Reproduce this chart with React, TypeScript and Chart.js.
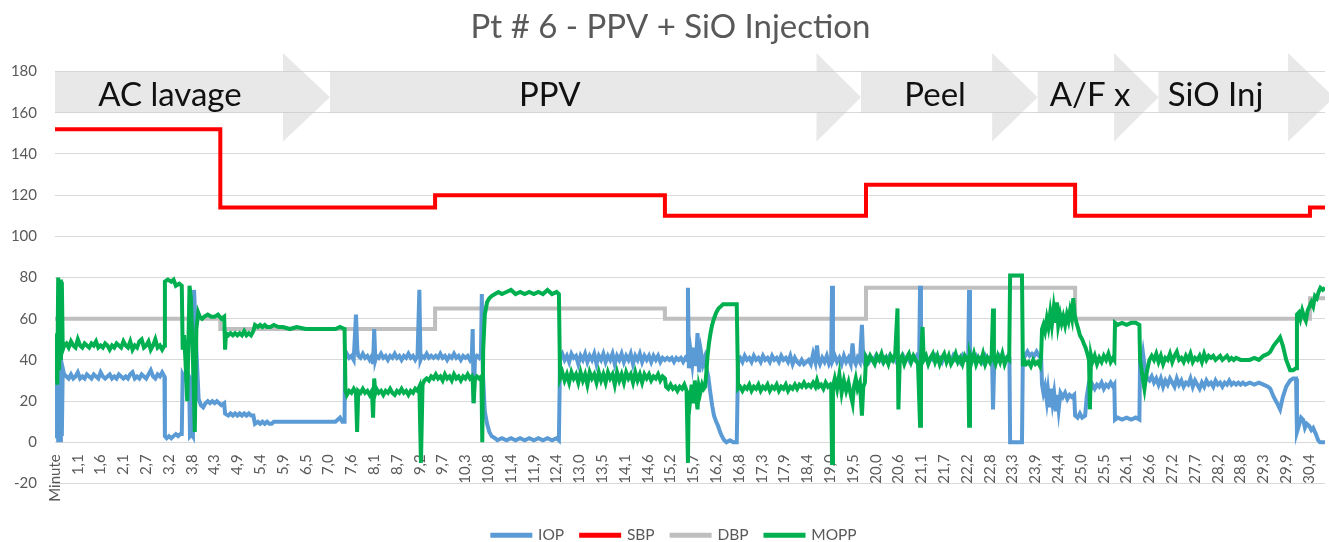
import React, { useEffect, useRef } from 'react';
import { Chart, registerables } from 'chart.js';

Chart.register(...registerables);

const FONT = 'Lato';

const chartTitle = 'Pt # 6 - PPV + SiO Injection';

const tickLabels = [
  'Minute', '1,1', '1,6', '2,1', '2,7', '3,2', '3,8', '4,3', '4,9', '5,4', '5,9', '6,5', '7,0', '7,6',
  '8,1', '8,7', '9,2', '9,7', '10,3', '10,8', '11,4', '11,9', '12,4', '13,0', '13,5', '14,1', '14,6',
  '15,2', '15,7', '16,2', '16,8', '17,3', '17,9', '18,4', '19,0', '19,5', '20,0', '20,6', '21,1', '21,7',
  '22,2', '22,8', '23,3', '23,9', '24,4', '25,0', '25,5', '26,1', '26,6', '27,2', '27,7', '28,2', '28,8',
  '29,3', '29,9', '30,4',
];

const seriesNames = ['IOP', 'SBP', 'DBP', 'MOPP'];
const seriesColors = ['#5B9BD5', '#FF0000', '#BFBFBF', '#00B050'];

// x is the position along the category axis (0 = "Minute", 1 = "1,1", ...)
const sbpData: [number, number][] = [
  [0, 152], [7.25, 152], [7.25, 114], [16.67, 114], [16.67, 120], [26.75, 120], [26.75, 110],
  [35.57, 110], [35.57, 125], [44.74, 125], [44.74, 110], [55.04, 110], [55.04, 114], [55.7, 114],
];

const dbpData: [number, number][] = [
  [0, 60], [7.25, 60], [7.25, 55], [16.67, 55], [16.67, 65], [26.75, 65], [26.75, 60],
  [35.57, 60], [35.57, 75], [44.74, 75], [44.74, 60], [55.04, 60], [55.04, 70], [55.7, 70],
];

const iopData: [number, number][] = [
  [0, 30], [0.03, 36], [0.06, 2], [0.1, 35], [0.14, 0], [0.18, 37], [0.22, 1], [0.26, 38], [0.3, 3], [0.34, 36], [0.4, 33],
  [0.5, 32], [0.6, 31], [0.7, 33], [0.8, 31], [0.9, 32], [1.0, 34], [1.1, 31], [1.2, 32], [1.3, 31], [1.4, 33],
  [1.5, 32], [1.6, 31], [1.7, 33], [1.8, 32], [1.9, 31], [2.0, 34], [2.1, 32], [2.2, 31], [2.3, 32], [2.4, 33],
  [2.5, 31], [2.6, 32], [2.7, 31], [2.8, 33], [2.9, 32], [3.0, 31], [3.1, 32], [3.2, 31], [3.3, 33], [3.4, 34],
  [3.5, 31], [3.6, 32], [3.7, 31], [3.8, 33], [3.9, 32], [4.0, 31], [4.1, 33], [4.2, 35], [4.3, 32], [4.4, 31],
  [4.5, 33], [4.6, 32], [4.7, 34], [4.8, 32],
  [4.82, 3], [4.9, 2], [5.0, 3], [5.1, 2], [5.2, 3], [5.3, 4], [5.4, 3], [5.5, 4], [5.56, 4], [5.6, 33], [5.7, 31],
  [5.8, 34], [5.88, 32], [5.92, 3], [6.0, 4], [6.05, 3], [6.1, 74], [6.15, 60], [6.2, 45], [6.3, 21], [6.4, 18],
  [6.5, 17], [6.6, 19], [6.7, 20], [6.8, 19], [6.9, 20], [7.0, 19], [7.1, 20], [7.2, 19], [7.3, 18], [7.42, 19],
  [7.46, 14], [7.6, 13], [7.7, 14], [7.8, 13], [7.9, 14], [8.0, 13], [8.1, 14], [8.2, 13], [8.3, 14], [8.4, 13],
  [8.5, 14], [8.6, 13], [8.7, 13], [8.77, 9], [8.9, 10], [9.0, 9], [9.1, 10], [9.2, 9], [9.3, 10], [9.4, 9],
  [9.5, 9], [9.6, 10], [9.8, 10], [10.2, 10], [10.6, 10], [11.0, 10], [11.5, 10], [12.0, 10], [12.3, 10],
  [12.5, 12], [12.6, 10], [12.7, 10],
  [12.72, 41], [12.8, 43], [12.9, 41], [13.0, 42], [13.1, 40], [13.2, 62], [13.26, 45], [13.3, 42], [13.4, 41],
  [13.5, 43], [13.6, 41], [13.7, 42], [13.8, 40], [13.9, 42], [13.95, 38], [14.0, 55], [14.05, 40], [14.1, 42],
  [14.2, 41], [14.3, 43], [14.4, 41], [14.5, 42], [14.6, 40], [14.7, 42], [14.8, 41], [14.9, 43], [15.0, 41],
  [15.1, 42], [15.2, 40], [15.3, 42], [15.4, 41], [15.5, 43], [15.6, 41], [15.7, 42], [15.8, 40], [15.9, 42],
  [15.98, 74], [16.03, 40], [16.1, 42], [16.2, 41], [16.3, 43], [16.4, 41], [16.5, 42], [16.6, 41],
  [16.7, 42], [16.8, 41], [16.9, 43], [17.0, 41], [17.1, 42], [17.2, 40], [17.3, 42], [17.4, 41], [17.5, 43],
  [17.6, 41], [17.7, 42], [17.8, 40], [17.9, 42], [18.0, 41], [18.1, 42], [18.2, 40], [18.28, 42], [18.32, 55],
  [18.36, 19], [18.42, 41], [18.5, 42], [18.6, 41], [18.68, 43], [18.72, 72], [18.76, 35], [18.85, 15],
  [18.95, 9], [19.05, 5], [19.15, 3], [19.3, 2], [19.4, 1], [19.6, 2], [19.8, 1], [20.0, 2], [20.2, 1],
  [20.4, 2], [20.6, 1], [20.8, 2], [21.0, 1], [21.2, 2], [21.4, 1], [21.6, 2], [21.8, 1], [22.0, 2], [22.1, 1],
  [22.15, 41], [22.25, 43], [22.35, 40], [22.45, 42], [22.55, 39], [22.65, 43], [22.75, 41], [22.85, 42],
  [22.95, 38], [23.05, 42], [23.15, 40], [23.25, 43], [23.35, 39], [23.45, 42], [23.55, 40], [23.65, 43],
  [23.75, 38], [23.85, 42], [23.95, 40], [24.05, 43], [24.15, 39], [24.25, 42], [24.35, 40], [24.45, 43],
  [24.55, 38], [24.65, 42], [24.75, 40], [24.85, 43], [24.95, 39], [25.05, 42], [25.15, 40], [25.25, 43],
  [25.35, 38], [25.45, 42], [25.55, 40], [25.65, 43], [25.75, 39], [25.85, 42], [25.95, 40], [26.05, 42],
  [26.15, 39], [26.25, 42], [26.35, 40], [26.45, 42], [26.55, 39], [26.65, 41], [26.75, 40],
  [26.85, 41], [26.95, 40], [27.05, 41], [27.15, 39], [27.25, 41], [27.35, 40], [27.45, 41], [27.55, 39],
  [27.65, 41], [27.72, 40], [27.76, 75], [27.8, 36], [27.88, 44], [27.95, 38], [28.02, 46], [28.1, 37],
  [28.18, 53], [28.25, 34], [28.33, 44], [28.42, 38], [28.5, 41], [28.57, 36], [28.65, 32], [28.73, 25],
  [28.82, 18], [28.9, 13], [29.0, 10], [29.08, 8], [29.17, 5], [29.25, 3], [29.35, 1], [29.45, 0], [29.6, 1],
  [29.75, 0], [29.9, 0],
  [29.96, 40], [30.05, 41], [30.15, 39], [30.25, 42], [30.35, 40], [30.45, 41], [30.55, 39], [30.65, 42],
  [30.75, 40], [30.85, 41], [30.95, 39], [31.05, 42], [31.15, 40], [31.25, 41], [31.35, 39], [31.45, 42],
  [31.55, 40], [31.65, 41], [31.75, 39], [31.85, 42], [31.95, 40], [32.05, 41], [32.15, 39], [32.25, 42],
  [32.35, 38], [32.45, 41], [32.55, 39], [32.65, 38], [32.75, 40], [32.85, 38], [32.95, 39], [33.05, 40],
  [33.15, 38], [33.25, 43], [33.35, 39], [33.42, 47], [33.48, 40], [33.55, 38], [33.65, 41], [33.75, 39],
  [33.85, 42], [33.95, 38], [34.04, 40], [34.08, 76], [34.12, 40], [34.2, 42], [34.3, 39], [34.4, 41],
  [34.5, 38], [34.6, 42], [34.7, 39], [34.8, 41], [34.9, 38], [34.98, 48], [35.04, 40], [35.12, 38],
  [35.2, 41], [35.3, 39], [35.39, 57], [35.45, 40], [35.52, 38],
  [35.6, 41], [35.7, 39], [35.8, 41], [35.9, 40], [36.0, 42], [36.1, 40], [36.2, 41], [36.3, 39], [36.4, 41],
  [36.5, 40], [36.6, 42], [36.7, 40], [36.8, 41], [36.9, 39], [37.0, 41], [37.1, 40], [37.2, 42], [37.3, 40],
  [37.4, 41], [37.5, 39], [37.6, 41], [37.7, 40], [37.8, 42], [37.9, 40], [37.94, 76], [37.98, 40], [38.1, 42],
  [38.2, 41], [38.3, 39], [38.4, 41], [38.5, 40], [38.6, 42], [38.7, 40], [38.8, 41], [38.9, 39], [39.0, 42],
  [39.1, 40], [39.2, 41], [39.3, 39], [39.4, 42], [39.5, 40], [39.6, 41], [39.7, 39], [39.8, 42], [39.9, 40],
  [40.05, 41], [40.09, 74], [40.13, 39], [40.2, 41], [40.3, 40], [40.4, 42], [40.5, 40], [40.6, 41], [40.7, 39],
  [40.8, 42], [40.9, 40], [41.0, 41], [41.1, 40], [41.14, 16], [41.2, 41], [41.3, 40], [41.4, 42], [41.5, 40],
  [41.6, 41], [41.7, 40], [41.8, 42], [41.86, 41], [41.89, 0], [42.41, 0], [42.45, 43], [42.55, 42],
  [42.65, 44], [42.75, 42], [42.85, 43], [42.95, 42], [43.05, 44], [43.15, 42], [43.25, 41],
  [43.29, 28], [43.35, 24], [43.42, 27], [43.5, 20], [43.55, 25], [43.62, 17], [43.68, 26], [43.75, 19],
  [43.82, 24], [43.9, 15], [43.96, 23], [44.02, 16], [44.1, 24], [44.2, 22], [44.3, 24], [44.4, 21], [44.5, 23],
  [44.6, 22], [44.7, 23], [44.74, 13], [44.85, 12], [44.95, 14], [45.05, 12], [45.18, 13], [45.25, 22],
  [45.32, 27], [45.4, 25], [45.5, 28], [45.6, 26], [45.7, 28], [45.8, 27], [45.9, 29], [46.0, 26], [46.1, 28],
  [46.2, 27], [46.3, 29], [46.4, 27], [46.46, 28], [46.49, 11], [46.6, 12], [46.8, 11], [47.0, 12], [47.2, 11],
  [47.4, 12], [47.56, 11], [47.59, 40], [47.66, 38], [47.72, 43], [47.8, 36], [47.9, 31],
  [48.0, 30], [48.1, 32], [48.2, 29], [48.3, 31], [48.4, 28], [48.5, 31], [48.6, 27], [48.7, 30], [48.8, 28],
  [48.9, 31], [49.0, 29], [49.1, 27], [49.2, 31], [49.3, 28], [49.4, 30], [49.5, 27], [49.6, 29], [49.7, 28],
  [49.8, 31], [49.9, 27], [50.0, 30], [50.1, 28], [50.2, 26], [50.3, 29], [50.4, 27], [50.5, 30], [50.6, 28],
  [50.7, 29], [50.8, 27], [50.9, 30], [51.0, 28], [51.1, 29], [51.2, 27], [51.3, 29], [51.4, 28], [51.5, 30],
  [51.6, 28], [51.7, 29], [51.8, 28], [51.9, 29], [52.0, 28], [52.1, 29], [52.2, 28], [52.4, 29], [52.6, 28],
  [52.8, 29], [53.0, 28], [53.2, 27],
  [53.3, 26], [53.45, 22], [53.6, 19], [53.73, 16], [53.85, 22], [54.0, 27], [54.17, 30], [54.3, 31],
  [54.43, 31], [54.47, 5], [54.55, 8], [54.65, 12], [54.74, 11], [54.82, 7], [54.9, 9], [55.0, 8], [55.1, 6],
  [55.18, 7], [55.3, 4], [55.4, 1], [55.48, 0], [55.7, 0],
];

const moppData: [number, number][] = [
  [0, 47], [0.03, 30], [0.06, 53], [0.1, 28], [0.14, 80], [0.18, 35], [0.22, 79], [0.26, 40], [0.3, 78], [0.34, 45], [0.4, 47],
  [0.5, 48], [0.6, 46], [0.7, 49], [0.8, 47], [0.9, 46], [1.0, 50], [1.1, 47], [1.2, 46], [1.3, 48], [1.4, 47],
  [1.5, 46], [1.6, 48], [1.7, 47], [1.8, 49], [1.9, 46], [2.0, 47], [2.1, 46], [2.2, 48], [2.3, 47], [2.4, 45],
  [2.5, 47], [2.6, 46], [2.7, 48], [2.8, 47], [2.9, 46], [3.0, 49], [3.1, 47], [3.2, 46], [3.3, 49], [3.4, 45],
  [3.5, 47], [3.6, 46], [3.7, 49], [3.8, 50], [3.9, 46], [4.0, 47], [4.1, 49], [4.2, 45], [4.3, 47], [4.4, 50],
  [4.5, 46], [4.6, 47], [4.7, 45], [4.8, 47],
  [4.82, 78], [4.95, 79], [5.1, 78], [5.2, 79], [5.3, 76], [5.45, 77], [5.56, 76], [5.6, 45], [5.66, 52],
  [5.72, 40], [5.8, 20], [5.85, 48], [5.9, 76], [5.96, 70], [6.02, 50], [6.08, 30], [6.13, 5], [6.2, 55],
  [6.28, 63], [6.35, 61], [6.45, 60], [6.55, 61], [6.7, 62], [6.85, 61], [7.0, 61], [7.15, 62], [7.3, 60],
  [7.42, 61], [7.46, 45], [7.5, 53], [7.6, 52], [7.7, 53], [7.8, 52], [7.9, 53], [8.0, 52], [8.1, 53], [8.2, 52],
  [8.3, 54], [8.4, 52], [8.5, 53], [8.6, 52], [8.7, 54], [8.77, 57], [8.9, 56], [9.0, 57], [9.1, 56], [9.2, 57],
  [9.3, 56], [9.45, 56], [9.6, 57], [9.8, 56], [10.0, 56], [10.3, 55], [10.6, 56], [11.0, 55], [11.3, 55],
  [11.6, 55], [12.0, 55], [12.3, 55], [12.5, 56], [12.7, 55],
  [12.74, 25], [12.8, 23], [12.9, 25], [13.0, 24], [13.1, 26], [13.2, 24], [13.25, 5], [13.3, 25], [13.4, 24],
  [13.5, 26], [13.6, 24], [13.7, 25], [13.8, 23], [13.9, 25], [13.95, 12], [14.0, 31], [14.05, 24], [14.1, 26],
  [14.2, 24], [14.3, 25], [14.4, 23], [14.5, 25], [14.6, 24], [14.7, 26], [14.8, 24], [14.9, 23], [15.0, 25],
  [15.1, 24], [15.2, 26], [15.3, 24], [15.4, 25], [15.5, 23], [15.6, 25], [15.7, 24], [15.8, 26], [15.9, 25],
  [15.98, 27], [16.05, -10], [16.12, 28], [16.2, 30], [16.3, 31], [16.4, 30], [16.5, 32], [16.6, 31],
  [16.7, 33], [16.8, 31], [16.9, 32], [17.0, 30], [17.1, 33], [17.2, 31], [17.3, 32], [17.4, 30], [17.5, 33],
  [17.6, 31], [17.7, 32], [17.8, 30], [17.9, 32], [18.0, 31], [18.1, 33], [18.2, 31], [18.28, 32], [18.32, 30],
  [18.36, 19], [18.42, 31], [18.5, 32], [18.6, 31], [18.7, 32], [18.74, 0], [18.78, 45], [18.85, 62],
  [18.95, 68], [19.05, 70], [19.15, 71], [19.3, 72], [19.45, 73], [19.6, 72], [19.8, 73], [20.0, 74], [20.2, 72],
  [20.4, 73], [20.6, 72], [20.8, 73], [21.0, 72], [21.2, 73], [21.4, 72], [21.6, 74], [21.8, 72], [22.0, 73],
  [22.1, 72],
  [22.15, 31], [22.25, 34], [22.35, 30], [22.45, 33], [22.55, 29], [22.65, 34], [22.75, 31], [22.85, 33],
  [22.95, 29], [23.05, 34], [23.15, 30], [23.25, 33], [23.35, 28], [23.45, 34], [23.55, 31], [23.65, 33],
  [23.75, 29], [23.85, 34], [23.95, 30], [24.05, 33], [24.15, 29], [24.25, 34], [24.35, 31], [24.45, 33],
  [24.55, 28], [24.65, 34], [24.75, 30], [24.85, 33], [24.95, 29], [25.05, 34], [25.15, 31], [25.25, 33],
  [25.35, 29], [25.45, 34], [25.55, 30], [25.65, 33], [25.75, 29], [25.85, 33], [25.95, 31], [26.05, 33],
  [26.15, 30], [26.25, 32], [26.35, 31], [26.45, 33], [26.55, 30], [26.65, 32], [26.75, 31],
  [26.8, 27], [26.9, 26], [27.0, 28], [27.1, 26], [27.2, 27], [27.3, 25], [27.4, 27], [27.5, 26], [27.6, 28],
  [27.7, 25], [27.76, -10], [27.8, 25], [27.86, 21], [27.92, 28], [28.0, 19], [28.06, 30], [28.12, 22],
  [28.18, 16], [28.24, 27], [28.3, 24], [28.38, 28], [28.45, 26], [28.51, 27], [28.56, 33], [28.62, 42],
  [28.68, 48], [28.75, 53], [28.82, 57], [28.9, 60], [29.0, 63], [29.1, 65], [29.2, 66], [29.3, 67], [29.5, 67],
  [29.7, 67], [29.9, 67],
  [29.96, 26], [30.05, 27], [30.15, 25], [30.25, 27], [30.35, 26], [30.45, 28], [30.55, 25], [30.65, 27],
  [30.75, 26], [30.85, 28], [30.95, 25], [31.05, 27], [31.15, 26], [31.25, 28], [31.35, 25], [31.45, 27],
  [31.55, 26], [31.65, 28], [31.75, 25], [31.85, 27], [31.95, 26], [32.05, 28], [32.15, 25], [32.25, 27],
  [32.35, 26], [32.45, 28], [32.55, 26], [32.65, 28], [32.75, 27], [32.85, 29], [32.95, 27], [33.05, 28],
  [33.15, 27], [33.25, 29], [33.35, 27], [33.42, 30], [33.5, 27], [33.6, 28], [33.7, 26], [33.8, 29], [33.9, 27],
  [34.0, 28], [34.04, 27], [34.08, -10], [34.12, 27], [34.2, 31], [34.3, 26], [34.4, 33], [34.5, 24], [34.6, 30],
  [34.7, 25], [34.8, 29], [34.9, 23], [34.98, 19], [35.04, 27], [35.12, 31], [35.2, 26], [35.3, 29], [35.39, 13],
  [35.45, 27], [35.52, 29],
  [35.57, 41], [35.65, 39], [35.75, 42], [35.85, 40], [35.95, 38], [36.05, 42], [36.15, 40], [36.25, 43],
  [36.35, 39], [36.45, 41], [36.55, 38], [36.65, 42], [36.75, 40], [36.85, 43], [36.95, 65], [36.99, 16],
  [37.05, 40], [37.15, 42], [37.25, 38], [37.35, 41], [37.45, 43], [37.55, 39], [37.65, 42], [37.75, 40],
  [37.85, 38], [37.94, 8], [37.98, 41], [38.05, 56], [38.1, 40], [38.2, 42], [38.3, 38], [38.4, 41], [38.5, 43],
  [38.6, 39], [38.7, 42], [38.8, 38], [38.9, 41], [39.0, 43], [39.1, 39], [39.2, 42], [39.3, 38], [39.4, 40],
  [39.5, 43], [39.6, 39], [39.7, 41], [39.8, 38], [39.9, 42], [40.0, 40], [40.05, 41], [40.09, 8], [40.13, 42],
  [40.2, 39], [40.3, 43], [40.4, 38], [40.5, 41], [40.6, 39], [40.7, 43], [40.8, 38], [40.9, 41], [41.0, 39],
  [41.08, 42], [41.14, 65], [41.18, 40], [41.25, 38], [41.35, 42], [41.45, 39], [41.55, 43], [41.65, 38],
  [41.75, 41], [41.85, 40], [41.89, 81], [42.41, 81], [42.45, 37], [42.5, 40], [42.6, 38], [42.7, 39],
  [42.8, 37], [42.9, 40], [43.0, 38], [43.1, 39], [43.2, 37], [43.25, 42],
  [43.29, 55], [43.35, 57], [43.42, 54], [43.5, 60], [43.57, 56], [43.65, 63], [43.72, 57], [43.8, 65],
  [43.87, 58], [43.94, 68], [44.0, 57], [44.08, 62], [44.15, 58], [44.22, 61], [44.3, 57], [44.38, 62],
  [44.45, 59], [44.52, 64], [44.6, 60], [44.66, 70], [44.72, 62], [44.8, 58], [44.88, 55], [44.95, 52],
  [45.05, 50], [45.12, 48], [45.2, 46], [45.28, 43], [45.35, 40], [45.39, 16], [45.44, 42], [45.5, 39],
  [45.6, 42], [45.7, 38], [45.8, 41], [45.9, 39], [46.0, 42], [46.1, 40], [46.2, 43], [46.3, 39], [46.4, 41],
  [46.46, 40], [46.49, 58], [46.6, 57], [46.8, 58], [47.0, 57], [47.2, 58], [47.4, 58], [47.56, 57], [47.59, 40],
  [47.66, 35], [47.72, 30], [47.78, 26], [47.85, 32], [47.92, 36], [48.0, 40],
  [48.1, 42], [48.2, 40], [48.3, 43], [48.4, 39], [48.5, 42], [48.6, 38], [48.7, 41], [48.8, 40], [48.9, 43],
  [49.0, 39], [49.1, 42], [49.2, 44], [49.3, 40], [49.4, 41], [49.5, 39], [49.6, 42], [49.7, 40], [49.8, 43],
  [49.9, 39], [50.0, 41], [50.1, 40], [50.2, 42], [50.3, 39], [50.4, 43], [50.5, 40], [50.6, 42], [50.7, 41],
  [50.8, 42], [50.9, 40], [51.0, 41], [51.1, 42], [51.2, 40], [51.3, 41], [51.4, 42], [51.5, 40], [51.6, 41],
  [51.7, 40], [51.8, 41], [52.0, 40], [52.2, 40], [52.4, 40], [52.6, 41], [52.8, 40], [53.0, 42], [53.2, 43],
  [53.3, 44], [53.45, 47], [53.6, 49], [53.73, 51], [53.85, 47], [54.0, 40], [54.17, 35], [54.3, 35],
  [54.43, 36], [54.47, 62], [54.55, 63], [54.62, 60], [54.7, 64], [54.78, 61], [54.86, 59], [54.94, 64],
  [55.02, 66], [55.1, 68], [55.18, 66], [55.26, 71], [55.34, 70], [55.42, 73], [55.5, 75], [55.6, 74], [55.7, 75],
];

// Procedure phases (process arrows at the top), in axis units
const phaseNames = ['AC lavage', 'PPV', 'Peel', 'A/F x', 'SiO Inj'];
const phaseStart = [0, 12.06, 35.35, 43.1, 48.4];
const phaseHeadStart = [10.0, 33.4, 41.1, 46.45, 54.08];
const phaseTip = [12.06, 35.35, 43.1, 48.4, 56.1];
const phaseLabelX = [5.04, 21.7, 38.6, 45.4, 50.9];

const toXY = (d: [number, number][]) => d.map(([x, y]) => ({ x, y }));

const phasePlugin = {
  id: 'phaseArrows',
  beforeDatasetsDraw(chart: any) {
    const { ctx, scales } = chart;
    const xs = scales.x;
    const ys = scales.y;
    const yTop = ys.getPixelForValue(180);
    const yBot = ys.getPixelForValue(160);
    const yHeadTop = ys.getPixelForValue(189);
    const yHeadBot = ys.getPixelForValue(146);
    const yMid = ys.getPixelForValue(167.5);
    ctx.save();
    for (let i = 0; i < phaseNames.length; i++) {
      const x0 = xs.getPixelForValue(phaseStart[i]);
      const xh = xs.getPixelForValue(phaseHeadStart[i]);
      const xt = xs.getPixelForValue(phaseTip[i]);
      ctx.fillStyle = 'rgba(200,200,200,0.42)';
      ctx.beginPath();
      ctx.moveTo(x0, yTop);
      ctx.lineTo(xh, yTop);
      ctx.lineTo(xh, yHeadTop);
      ctx.lineTo(xt, yMid);
      ctx.lineTo(xh, yHeadBot);
      ctx.lineTo(xh, yBot);
      ctx.lineTo(x0, yBot);
      ctx.closePath();
      ctx.fill();
    }
    ctx.fillStyle = '#111111';
    ctx.font = `33px ${FONT}`;
    ctx.textAlign = 'center';
    ctx.textBaseline = 'alphabetic';
    const yText = ys.getPixelForValue(163.5);
    for (let i = 0; i < phaseNames.length; i++) {
      ctx.fillText(phaseNames[i], xs.getPixelForValue(phaseLabelX[i]), yText);
    }
    ctx.restore();
  },
};

// nudges the title and legend horizontally to sit where they sit in the original
const TITLE_SHIFT = 8;
const LEGEND_SHIFT = 12;
const shiftPlugin = {
  id: 'shiftBlocks',
  afterLayout(chart: any) {
    const t = chart.titleBlock;
    if (t) { t.left += TITLE_SHIFT; t.right += TITLE_SHIFT; }
    const l = chart.legend;
    if (l) { l.left += LEGEND_SHIFT; l.right += LEGEND_SHIFT; }
  },
};

export default function App() {
  const canvasRef = useRef<HTMLCanvasElement | null>(null);

  useEffect(() => {
    document.body.style.margin = '0';
    document.body.style.overflow = 'hidden';
    const canvas = canvasRef.current;
    if (!canvas) return;
    const seriesData = [iopData, sbpData, dbpData, moppData];
    const orders = [1, 2, 3, 0];
    const widths = [4, 4, 4, 4];
    const chart = new Chart(canvas, {
      type: 'line',
      data: {
        datasets: seriesNames.map((name, i) => ({
          label: name,
          data: toXY(seriesData[i]),
          xAxisID: 'x',
          yAxisID: 'y',
          borderColor: seriesColors[i],
          backgroundColor: seriesColors[i],
          borderWidth: widths[i],
          pointRadius: 0,
          tension: 0,
          order: orders[i],
        })),
      },
      options: {
        responsive: false,
        animation: false,
        events: [],
        layout: { padding: { left: 0, right: 4, top: 0, bottom: -11 } },
        plugins: {
          title: {
            display: true,
            text: chartTitle,
            color: '#595959',
            font: { family: FONT, size: 33, weight: 'normal' },
            padding: { top: 8, bottom: 24 },
          },
          legend: {
            position: 'bottom',
            labels: {
              boxWidth: 38,
              boxHeight: 1,
              padding: 17,
              color: '#595959',
              font: { family: FONT, size: 15.5 },
              sort: (a: any, b: any) => a.datasetIndex - b.datasetIndex,
            },
          },
          tooltip: { enabled: false },
        },
        scales: {
          x: {
            type: 'linear',
            position: { y: 0 },
            min: 0,
            max: 55.7,
            afterBuildTicks: (scale: any) => {
              scale.ticks = tickLabels.map((_, i) => ({ value: i }));
            },
            afterFit: (scale: any) => {
              scale.paddingLeft = 0;
              scale.paddingRight = 0;
            },
            ticks: {
              autoSkip: false,
              minRotation: 90,
              maxRotation: 90,
              padding: 12,
              color: '#595959',
              font: { family: FONT, size: 15 },
              callback: (_v: any, index: number) => tickLabels[index] ?? '',
            },
            grid: { display: false, drawTicks: false },
            border: { display: false },
          },
          xPad: {
            type: 'linear',
            position: 'bottom',
            display: true,
            afterFit: (scale: any) => {
              scale.height = 27;
              scale.paddingLeft = 0;
              scale.paddingRight = 0;
            },
            ticks: { display: false },
            grid: { display: false, drawTicks: false },
            border: { display: false },
          },
          y: {
            min: -20,
            max: 180,
            afterFit: (scale: any) => {
              scale.width = 55;
            },
            ticks: {
              stepSize: 20,
              padding: 18,
              color: '#595959',
              font: { family: FONT, size: 15 },
            },
            grid: { color: '#D9D9D9', drawTicks: false },
            border: { display: false },
          },
        },
      },
      plugins: [phasePlugin, shiftPlugin],
    });
    return () => chart.destroy();
  }, []);

  return (
    <div style={{ width: 1329, height: 542 }}>
      <canvas ref={canvasRef} width={1329} height={542} style={{ display: 'block' }} />
    </div>
  );
}
